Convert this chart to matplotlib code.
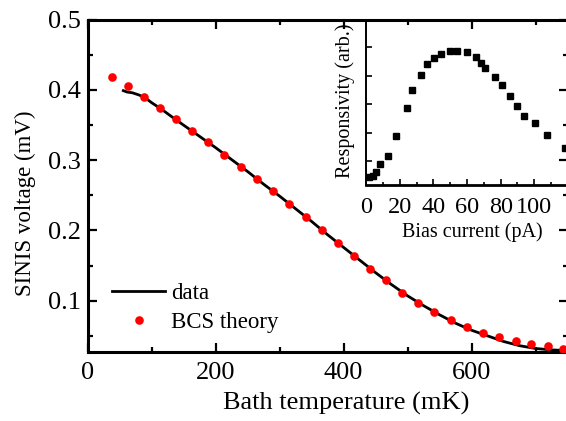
import matplotlib
matplotlib.use("Agg")
import matplotlib.pyplot as plt
from matplotlib.ticker import MultipleLocator, NullFormatter

plt.rcParams['font.family'] = ['Liberation Serif', 'DejaVu Serif']

# Main panel: measured SINIS voltage vs bath temperature
temp_data = [56, 62, 70, 80, 90, 100, 115, 130, 150, 175, 200, 225, 250, 275,
             300, 325, 350, 375, 400, 425, 450, 475, 500, 525, 550, 575, 600,
             625, 650, 675, 700, 725, 750]
volt_data = [0.399, 0.397, 0.396, 0.393, 0.389, 0.382, 0.373, 0.363, 0.350,
             0.334, 0.318, 0.301, 0.284, 0.266, 0.249, 0.231, 0.213, 0.194,
             0.176, 0.158, 0.140, 0.123, 0.107, 0.093, 0.080, 0.068, 0.058,
             0.050, 0.042, 0.036, 0.032, 0.030, 0.029]

# BCS theory points
temp_bcs = [38, 63, 88, 113, 139, 164, 189, 214, 240, 265, 290, 315, 341, 366,
            391, 416, 441, 467, 492, 517, 542, 568, 593, 618, 643, 669, 693,
            719, 743]
volt_bcs = [0.419, 0.405, 0.390, 0.374, 0.358, 0.342, 0.326, 0.308, 0.291,
            0.273, 0.256, 0.237, 0.219, 0.201, 0.182, 0.164, 0.145, 0.129,
            0.111, 0.097, 0.084, 0.073, 0.063, 0.054, 0.049, 0.043, 0.038,
            0.035, 0.031]

# Inset: responsivity vs bias current
bias = [1.4, 4.0, 6.0, 8.4, 12.8, 17.8, 24.4, 27.4, 32.6, 36.4, 40.6, 44.4,
        49.6, 53.9, 60.0, 65.3, 68.5, 70.9, 76.5, 80.9, 85.3, 89.9, 94.1,
        100.3, 107.7, 118.5]
resp = [0.44, 0.47, 0.62, 0.88, 1.19, 1.88, 2.88, 3.49, 4.03, 4.43, 4.64,
        4.76, 4.88, 4.88, 4.84, 4.67, 4.46, 4.29, 3.97, 3.68, 3.29, 2.95,
        2.60, 2.33, 1.90, 1.44]

W, H = 566, 421
fig = plt.figure(figsize=(W / 100, H / 100), dpi=100)

L, R, T, B = 87.5, 567.5, 19.7, 352.0
ax = fig.add_axes([L / W, 1 - B / H, (R - L) / W, (B - T) / H])

ax.plot(temp_data, volt_data, color='black', lw=2.0, label='data', zorder=2)
ax.plot(temp_bcs, volt_bcs, 'o', color='#ff0000', ms=6.2, mec='none',
        label='BCS theory', zorder=3)

ax.set_xlim(0, 750)
ax.set_ylim(0.027, 0.5)
ax.xaxis.set_major_locator(MultipleLocator(200))
ax.xaxis.set_minor_locator(MultipleLocator(100))
ax.yaxis.set_major_locator(MultipleLocator(0.1))
ax.yaxis.set_minor_locator(MultipleLocator(0.05))
ax.tick_params(which='both', direction='in', top=True, right=True,
               labelsize=19, width=1.6)
ax.tick_params(which='major', length=6.5)
ax.tick_params(which='minor', length=3.5)
ax.tick_params(axis='x', pad=7)
ax.tick_params(axis='y', pad=5)
for s in ax.spines.values():
    s.set_linewidth(2.2)

ax.set_xlabel('Bath temperature (mK)', fontsize=19)
ax.xaxis.set_label_coords(0.5385, -0.12)
ax.set_ylabel('SINIS voltage (mV)', fontsize=16.5)
ax.yaxis.set_label_coords(-0.108, 0.447)

ax.legend(loc='upper left', bbox_to_anchor=(0.052, 0.207), frameon=False,
          fontsize=16.5, handlelength=2.3, handletextpad=0.25,
          labelspacing=0.32, borderpad=0, borderaxespad=0)

# Inset
iL, iT, iB = 365.7, 19.7, 185.0
axi = fig.add_axes([iL / W, 1 - iB / H, (R - iL) / W, (iB - iT) / H])
axi.patch.set_alpha(0)
axi.plot(bias, resp, 's', color='black', ms=4.5)
axi.set_xlim(-0.3, 119.8)
axi.set_ylim(0.15, 5.98)
axi.xaxis.set_major_locator(MultipleLocator(20))
axi.xaxis.set_minor_locator(MultipleLocator(10))
axi.yaxis.set_major_locator(MultipleLocator(1))
axi.yaxis.set_major_formatter(NullFormatter())
axi.tick_params(which='both', direction='in', labelsize=17.5, width=1.2)
axi.tick_params(which='major', length=4)
axi.tick_params(which='minor', length=2.5)
axi.tick_params(axis='x', pad=8.5)
for s in axi.spines.values():
    s.set_linewidth(1.4)
axi.spines['bottom'].set_linewidth(2.0)
axi.set_xlabel('Bias current (pA)', fontsize=14.5)
axi.xaxis.set_label_coords(0.53, -0.225)
axi.set_ylabel('Responsivity (arb.)', fontsize=14.5)
axi.yaxis.set_label_coords(-0.053, 0.51)

fig.savefig('out.png', dpi=100)
